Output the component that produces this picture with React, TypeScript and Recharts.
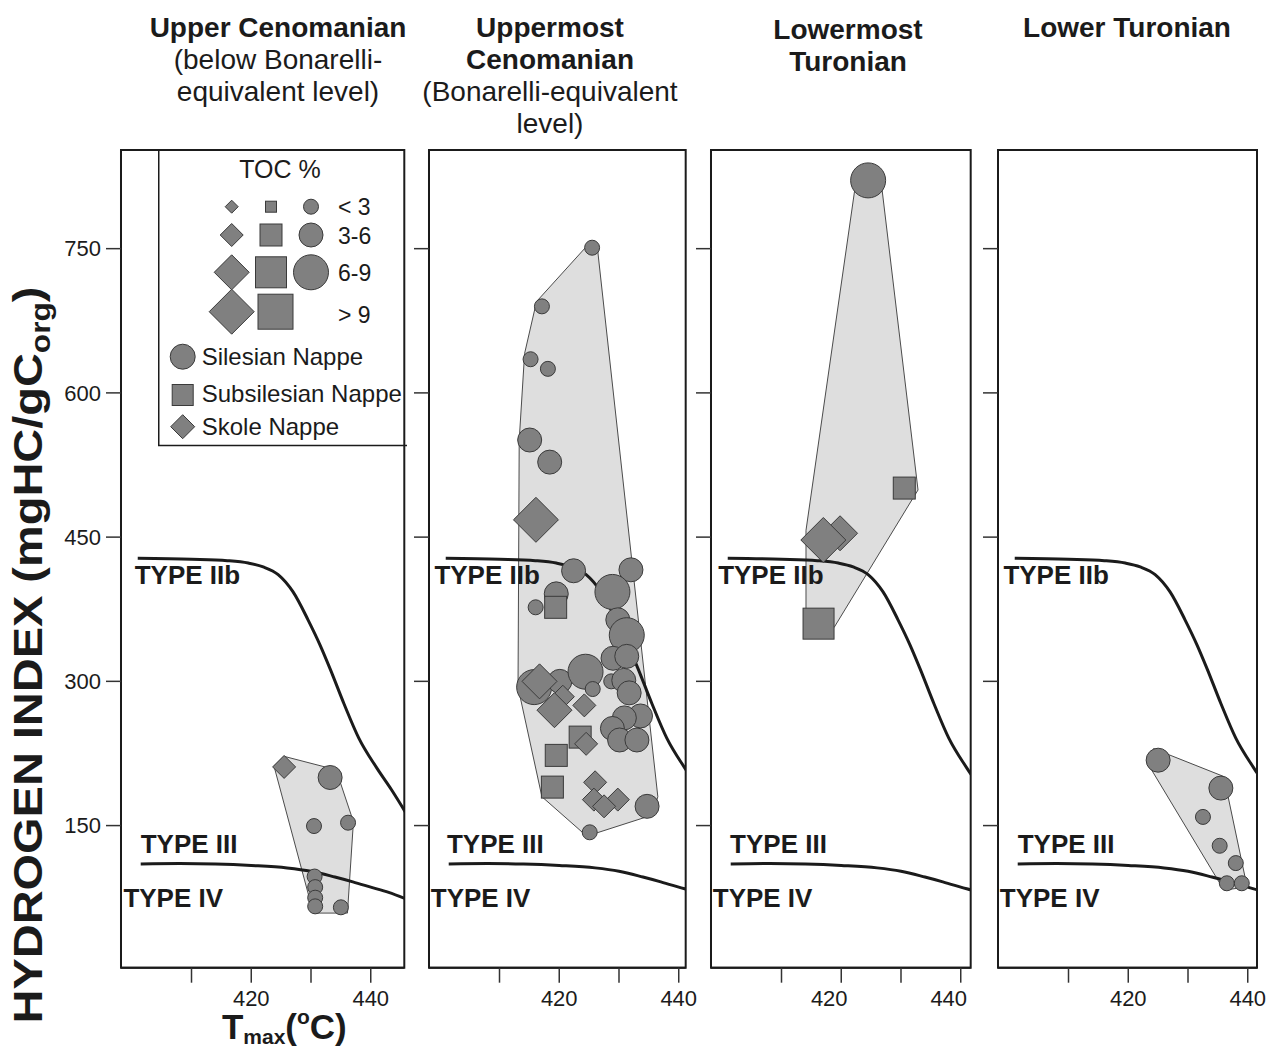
import React from 'react';
import { ScatterChart, Scatter, XAxis, YAxis, Legend, ReferenceArea } from 'recharts';

type Toc = '<3' | '3-6' | '6-9' | '>9';
type Sample = { x: number; y: number; toc: Toc };
type Pt = { x: number; y: number };

const FONT = '"Liberation Sans", Arial, Helvetica, sans-serif';
const INK = '#1b1b1b';
const GREY = '#808080';
const EDGE = '#3a3a3a';
const FIELD = '#dedede';

// axes shared by the four panels
const hiTicks = [150, 300, 450, 600, 750];
const tmaxTicks = [410, 420, 430, 440];
const tmaxLabelled = [420, 440];
const tocLabels = ['< 3', '3-6', '6-9', '> 9'];
const tocKeys: Toc[] = ['<3', '3-6', '6-9', '>9'];
const nappeNames = ['Silesian Nappe', 'Subsilesian Nappe', 'Skole Nappe'];
const typeNames = ['TYPE IIb', 'TYPE III', 'TYPE IV'];
const typeNameHi = [401, 121, 65];

// kerogen type boundaries (Tmax °C, HI)
const iibTmax = [401, 410, 416, 419.5, 422, 424.5, 427, 429.5, 431.5, 433.2, 435.5, 438, 441, 443.5, 445.8];
const iibHi = [428, 427, 425.5, 423, 419, 411, 393, 364, 338, 313, 277, 241, 210, 187, 164];
const ivTmax = [401.5, 408, 414, 420, 426, 430, 434, 437, 440, 443, 445.8];
const ivHi = [110, 110.5, 110, 108.5, 106, 102.5, 96.5, 91.5, 86, 80.5, 74];

// Upper Cenomanian (below Bonarelli-equivalent level)
const ucSilesian: Sample[] = [
  { x: 433.2, y: 200, toc: '3-6' },
  { x: 430.5, y: 149.5, toc: '<3' },
  { x: 436.2, y: 153, toc: '<3' },
  { x: 430.6, y: 97, toc: '<3' },
  { x: 430.7, y: 86, toc: '<3' },
  { x: 430.7, y: 75, toc: '<3' },
  { x: 430.7, y: 66, toc: '<3' },
  { x: 435.0, y: 65, toc: '<3' },
];
const ucSubsilesian: Sample[] = [];
const ucSkole: Sample[] = [{ x: 425.5, y: 211, toc: '3-6' }];
const ucField: Pt[] = [
  { x: 423.8, y: 212 }, { x: 425.5, y: 222 }, { x: 434.2, y: 208 },
  { x: 437.1, y: 154 }, { x: 436.1, y: 59 }, { x: 430.4, y: 59 },
];

// Uppermost Cenomanian (Bonarelli-equivalent level)
const umcSilesian: Sample[] = [
  { x: 425.5, y: 751, toc: '<3' },
  { x: 417.1, y: 690, toc: '<3' },
  { x: 415.2, y: 635, toc: '<3' },
  { x: 418.1, y: 625, toc: '<3' },
  { x: 415.05, y: 551, toc: '3-6' },
  { x: 418.4, y: 528, toc: '3-6' },
  { x: 422.4, y: 415, toc: '3-6' },
  { x: 432.0, y: 416, toc: '3-6' },
  { x: 428.9, y: 393, toc: '6-9' },
  { x: 419.5, y: 391, toc: '3-6' },
  { x: 416.05, y: 377, toc: '<3' },
  { x: 429.8, y: 364, toc: '3-6' },
  { x: 431.3, y: 348, toc: '6-9' },
  { x: 429.0, y: 324, toc: '3-6' },
  { x: 431.3, y: 326, toc: '3-6' },
  { x: 415.8, y: 294, toc: '6-9' },
  { x: 420.1, y: 300, toc: '3-6' },
  { x: 424.4, y: 310, toc: '6-9' },
  { x: 425.6, y: 292, toc: '<3' },
  { x: 428.7, y: 300, toc: '<3' },
  { x: 430.8, y: 301, toc: '3-6' },
  { x: 431.7, y: 288, toc: '3-6' },
  { x: 433.6, y: 264, toc: '3-6' },
  { x: 430.9, y: 262, toc: '3-6' },
  { x: 428.9, y: 251, toc: '3-6' },
  { x: 430.1, y: 239, toc: '3-6' },
  { x: 433.0, y: 239, toc: '3-6' },
  { x: 434.7, y: 170, toc: '3-6' },
  { x: 425.1, y: 143, toc: '<3' },
];
const umcSubsilesian: Sample[] = [
  { x: 419.4, y: 377, toc: '3-6' },
  { x: 423.5, y: 242, toc: '3-6' },
  { x: 419.5, y: 223, toc: '3-6' },
  { x: 418.85, y: 190, toc: '3-6' },
];
const umcSkole: Sample[] = [
  { x: 416.1, y: 468, toc: '>9' },
  { x: 420.6, y: 284, toc: '3-6' },
  { x: 416.7, y: 300, toc: '6-9' },
  { x: 419.2, y: 270, toc: '6-9' },
  { x: 424.2, y: 275, toc: '3-6' },
  { x: 424.5, y: 235, toc: '3-6' },
  { x: 426.0, y: 195, toc: '3-6' },
  { x: 425.8, y: 177, toc: '3-6' },
  { x: 429.8, y: 177, toc: '3-6' },
  { x: 427.5, y: 170, toc: '3-6' },
];
const umcField: Pt[] = [
  { x: 425.1, y: 756 }, { x: 426.4, y: 750 }, { x: 436.5, y: 180 }, { x: 435.6, y: 161 },
  { x: 424.6, y: 139 }, { x: 417.1, y: 180 }, { x: 413.1, y: 294 }, { x: 413.3, y: 551 },
  { x: 414.2, y: 641 }, { x: 416.2, y: 695 },
];

// Lowermost Turonian
const ltSilesian: Sample[] = [{ x: 424.5, y: 821, toc: '6-9' }];
const ltSubsilesian: Sample[] = [
  { x: 430.55, y: 501, toc: '3-6' },
  { x: 416.2, y: 360, toc: '6-9' },
];
const ltSkole: Sample[] = [
  { x: 419.8, y: 454, toc: '6-9' },
  { x: 417.0, y: 447, toc: '>9' },
];
const ltField: Pt[] = [
  { x: 422.3, y: 813 }, { x: 426.8, y: 813 }, { x: 432.85, y: 499 }, { x: 431.85, y: 489 },
  { x: 418.8, y: 356 }, { x: 414.1, y: 374 }, { x: 414.1, y: 457 },
];

// Lower Turonian
const lwSilesian: Sample[] = [
  { x: 425.0, y: 218, toc: '3-6' },
  { x: 435.5, y: 189, toc: '3-6' },
  { x: 432.5, y: 159, toc: '<3' },
  { x: 435.3, y: 129, toc: '<3' },
  { x: 438.0, y: 111, toc: '<3' },
  { x: 436.5, y: 90, toc: '<3' },
  { x: 439.0, y: 90, toc: '<3' },
];
const lwSubsilesian: Sample[] = [];
const lwSkole: Sample[] = [];
const lwField: Pt[] = [
  { x: 424.25, y: 230 }, { x: 436, y: 201 }, { x: 439.9, y: 86 }, { x: 436, y: 83 }, { x: 423.7, y: 210 },
];

const iibCurve = iibTmax.map((x, i) => ({ x, y: iibHi[i] }));
const ivCurve = ivTmax.map((x, i) => ({ x, y: ivHi[i] }));

// marker sizes per TOC class (px)
const circleD: Record<Toc, number> = { '<3': 15, '3-6': 24, '6-9': 35, '>9': 44 };
const squareS: Record<Toc, number> = { '<3': 11, '3-6': 22, '6-9': 31, '>9': 35 };
const diamondD: Record<Toc, number> = { '<3': 13, '3-6': 23, '6-9': 35, '>9': 45 };

type Kind = 'circle' | 'square' | 'diamond';

function mark(kind: Kind, cx: number, cy: number, size: number, key?: string) {
  const common = { fill: GREY, stroke: EDGE, strokeWidth: 1 };
  if (kind === 'circle') return <circle key={key} cx={cx} cy={cy} r={size / 2} {...common} />;
  if (kind === 'square')
    return <rect key={key} x={cx - size / 2} y={cy - size / 2} width={size} height={size} {...common} />;
  const h = size / 2;
  return (
    <polygon key={key} points={`${cx},${cy - h} ${cx + h},${cy} ${cx},${cy + h} ${cx - h},${cy}`} {...common} />
  );
}

const X0 = 398.2;
const PX_PER_DEG = 5.975;
const HI_DOMAIN: [number, number] = [2.2, 852.6];

const panels = [
  {
    left: 121, width: 283.3, titleX: 278, titleTop: 12,
    title: [['Upper Cenomanian', true], ['(below Bonarelli-', false], ['equivalent level)', false]] as [string, boolean][],
    silesian: ucSilesian, subsilesian: ucSubsilesian, skole: ucSkole, field: ucField,
    labelTmax: [400.5, 401.5, 398.6], tickDx: 0,
  },
  {
    left: 429.3, width: 256.7, titleX: 550, titleTop: 12,
    title: [['Uppermost', true], ['Cenomanian', true], ['(Bonarelli-equivalent', false], ['level)', false]] as [string, boolean][],
    silesian: umcSilesian, subsilesian: umcSubsilesian, skole: umcSkole, field: umcField,
    labelTmax: [399.1, 401.2, 398.5], tickDx: 0,
  },
  {
    left: 711, width: 259.7, titleX: 848, titleTop: 14,
    title: [['Lowermost', true], ['Turonian', true]] as [string, boolean][],
    silesian: ltSilesian, subsilesian: ltSubsilesian, skole: ltSkole, field: ltField,
    labelTmax: [399.4, 401.4, 398.5], tickDx: -12,
  },
  {
    left: 997.7, width: 259, titleX: 1127, titleTop: 12,
    title: [['Lower Turonian', true]] as [string, boolean][],
    silesian: lwSilesian, subsilesian: lwSubsilesian, skole: lwSkole, field: lwField,
    labelTmax: [399.1, 401.5, 398.5], tickDx: 0,
  },
];

const TocKey = () => (
  <svg width={248} height={297} style={{ display: 'block', fontFamily: FONT, overflow: 'visible' }}>
    <path d="M0.75 0 V295.5 H249" fill="none" stroke={INK} strokeWidth={1.5} />
    <text x={122} y={28} textAnchor="middle" fontSize={25} fill={INK}>TOC %</text>
    {tocKeys.map((t, i) => {
      const cy = [56.7, 85, 122.3, 161.7][i];
      const base = [65, 93.5, 131, 172.5][i];
      return (
        <g key={t}>
          {mark('diamond', 73.7, cy, diamondD[t])}
          {mark('square', i === 3 ? 117.5 : 113, cy, squareS[t])}
          {i < 3 && mark('circle', 153, cy, circleD[t])}
          <text x={180} y={base} fontSize={23} fill={INK}>{tocLabels[i]}</text>
        </g>
      );
    })}
    {nappeNames.map((n, i) => {
      const cy = [206.7, 245, 276.7][i];
      const base = [214.5, 252, 285][i];
      const kind: Kind = (['circle', 'square', 'diamond'] as Kind[])[i];
      const size = [25, 21, 24][i];
      return (
        <g key={n}>
          {mark(kind, 24.7, cy, size)}
          <text x={43.7} y={base} fontSize={24} fill={INK}>{n}</text>
        </g>
      );
    })}
  </svg>
);

const HiLabel = () => {
  const x = 42;
  const y = 655;
  return (
    <text x={x} y={y} transform={`rotate(-90 ${x} ${y})`} textAnchor="middle" fontFamily={FONT}
      fontWeight="bold" fontSize={40} fill={INK} textLength={737} lengthAdjust="spacingAndGlyphs">
      HYDROGEN INDEX (mgHC/gC<tspan fontSize={27} dy={8}>org</tspan><tspan dy={-8}>)</tspan>
    </text>
  );
};

const TmaxLabel = () => (
  <text x={222} y={1039} fontFamily={FONT} fontWeight="bold" fontSize={35} fill={INK}>
    T<tspan fontSize={21} dy={5}>max</tspan><tspan dy={-5}>(</tspan>
    <tspan fontSize={21} dy={-15}>o</tspan><tspan dy={15}>C)</tspan>
  </text>
);

function Panel({ cfg, first }: { cfg: (typeof panels)[number]; first: boolean }) {
  const yw = first ? 60 : 20;
  const ml = first ? 61 : 10;
  const mr = 22;
  const chartLeft = cfg.left - yw - ml;
  const xMax = X0 + cfg.width / PX_PER_DEG;
  const typeLabels = typeNames.map((text, i) => ({ x: cfg.labelTmax[i], y: typeNameHi[i], text }));
  const hidden = () => <g />;

  return (
    <div style={{ position: 'absolute', left: chartLeft, top: 0 }}>
      <ScatterChart width={ml + yw + cfg.width + mr} height={1049}
        margin={{ top: 150, right: mr, bottom: 11.3, left: ml }}>
        <XAxis type="number" dataKey="x" domain={[X0, xMax]} allowDataOverflow ticks={tmaxTicks}
          interval={0} height={70} tickSize={15} tickMargin={8}
          tickFormatter={(v: number) => (tmaxLabelled.includes(v) ? String(v) : '')}
          tick={{ fill: INK, fontSize: 22, fontFamily: FONT, dx: cfg.tickDx }}
          axisLine={{ stroke: INK, strokeWidth: 2 }} tickLine={{ stroke: '#333', strokeWidth: 1.5 }}
          label={first ? <TmaxLabel /> : undefined} />
        <YAxis type="number" dataKey="y" domain={HI_DOMAIN} allowDataOverflow ticks={hiTicks}
          interval={0} width={yw} tickSize={15} tickMargin={5}
          tickFormatter={(v: number) => (first ? String(v) : '')}
          tick={{ fill: INK, fontSize: 22, fontFamily: FONT }}
          axisLine={{ stroke: INK, strokeWidth: 2 }} tickLine={{ stroke: '#333', strokeWidth: 1.5 }}
          label={first ? <HiLabel /> : undefined} />

        <Scatter data={cfg.field} isAnimationActive={false} shape={hidden}
          line={(lp: any) => (
            <path d={lp.points.map((p: Pt, i: number) => `${i ? 'L' : 'M'}${p.x},${p.y}`).join(' ') + ' Z'}
              fill={FIELD} stroke="#4a4a4a" strokeWidth={1} />
          )} />
        <Scatter data={iibCurve} isAnimationActive={false} shape={hidden}
          line={{ stroke: INK, strokeWidth: 3 }} lineJointType="monotoneX" />
        <Scatter data={ivCurve} isAnimationActive={false} shape={hidden}
          line={{ stroke: INK, strokeWidth: 3 }} lineJointType="monotoneX" />
        <Scatter data={typeLabels} isAnimationActive={false}
          shape={(p: any) => (
            <text x={p.cx} y={p.cy} fontFamily={FONT} fontWeight="bold" fontSize={26} fill={INK}>
              {p.payload.text}
            </text>
          )} />

        <Scatter name="Silesian Nappe" data={cfg.silesian} isAnimationActive={false}
          shape={(p: any) => mark('circle', p.cx, p.cy, circleD[p.payload.toc as Toc])} />
        <Scatter name="Subsilesian Nappe" data={cfg.subsilesian} isAnimationActive={false}
          shape={(p: any) => mark('square', p.cx, p.cy, squareS[p.payload.toc as Toc])} />
        <Scatter name="Skole Nappe" data={cfg.skole} isAnimationActive={false}
          shape={(p: any) => mark('diamond', p.cx, p.cy, diamondD[p.payload.toc as Toc])} />

        <ReferenceArea x1={X0} x2={xMax} y1={HI_DOMAIN[0]} y2={HI_DOMAIN[1]} fill="none"
          stroke={INK} strokeWidth={2} ifOverflow="visible" />
        {first && (
          <Legend layout="vertical" align="center" verticalAlign="middle" content={() => <TocKey />}
            wrapperStyle={{ left: 158 - chartLeft, top: 150, width: 248, height: 297 }} />
        )}
      </ScatterChart>
    </div>
  );
}

export default function App() {
  return (
    <div style={{ position: 'absolute', left: 0, top: 0, width: 1268, height: 1049, background: '#fff', fontFamily: FONT }}>
      {panels.map((cfg) => (
        <div key={cfg.titleX} style={{ position: 'absolute', left: cfg.titleX - 200, top: cfg.titleTop, width: 400,
          textAlign: 'center', fontSize: 28, lineHeight: '32px', color: INK }}>
          {cfg.title.map(([line, bold]) => (
            <div key={line} style={{ fontWeight: bold ? 'bold' : 'normal' }}>{line}</div>
          ))}
        </div>
      ))}
      {panels.map((cfg, i) => (
        <Panel key={cfg.left} cfg={cfg} first={i === 0} />
      ))}
    </div>
  );
}
